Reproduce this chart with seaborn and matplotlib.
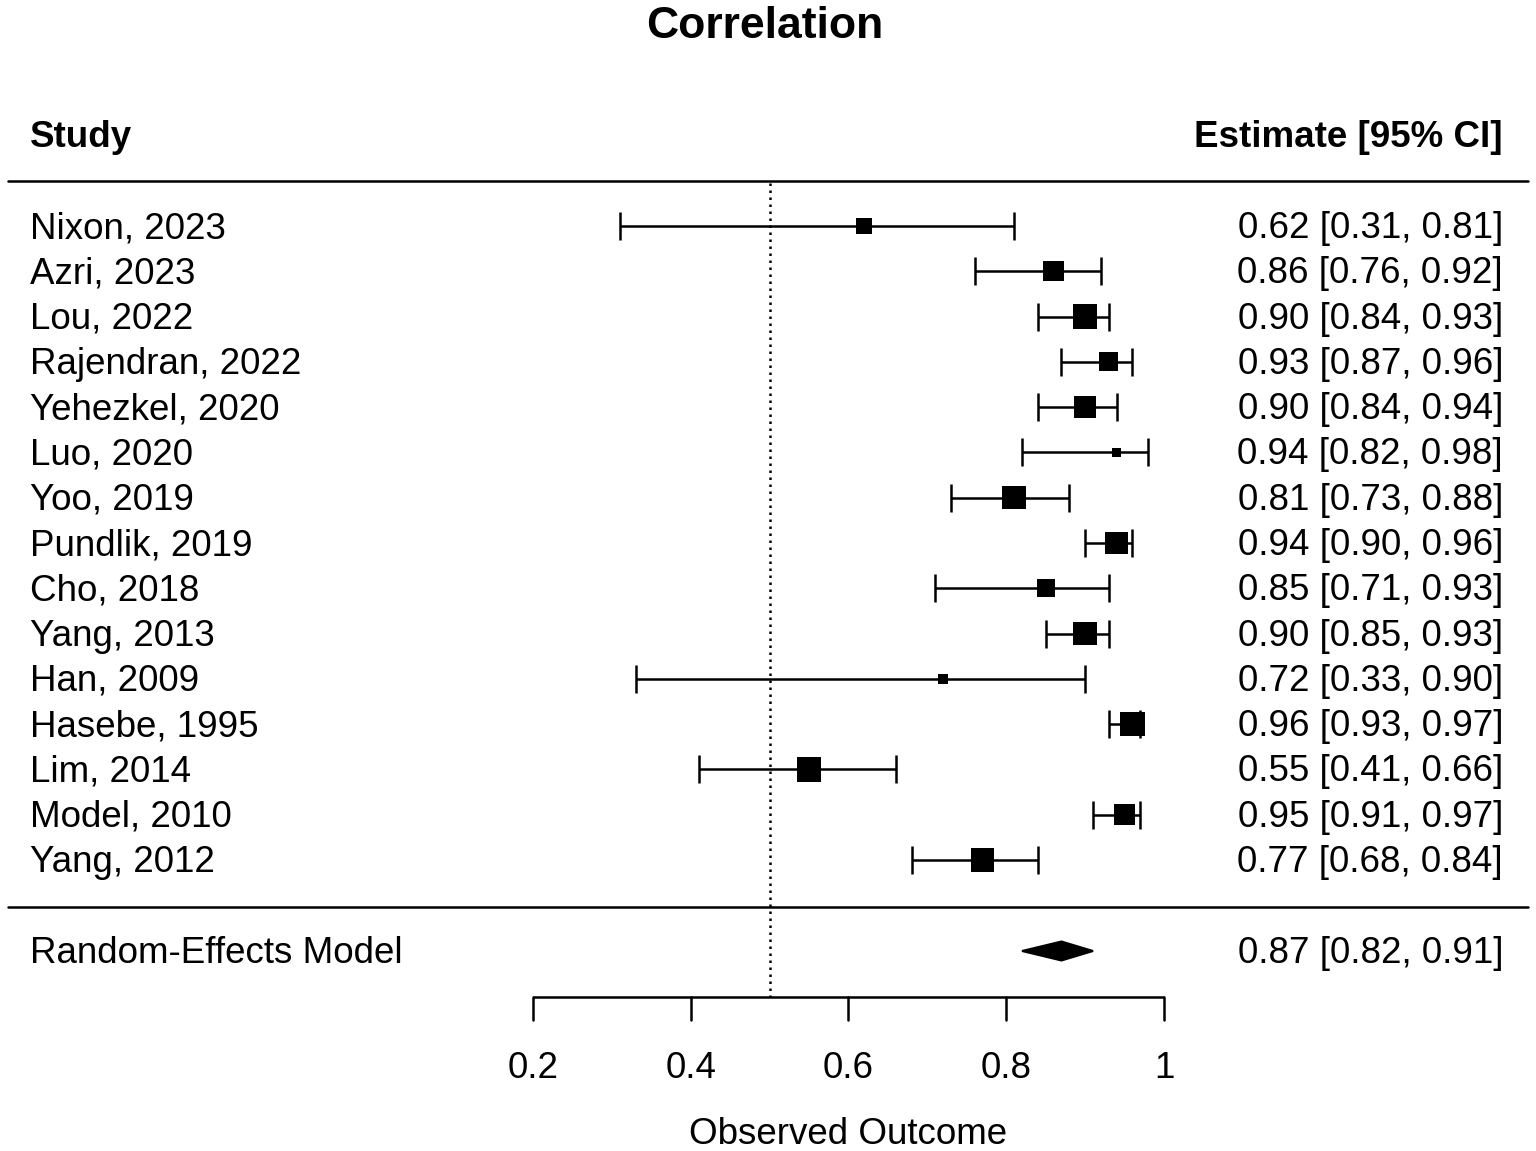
import numpy as np
import pandas as pd
import matplotlib
matplotlib.use("Agg")
import matplotlib.pyplot as plt
import seaborn as sns

# ---------------- data ----------------
studies = ["Nixon, 2023", "Azri, 2023", "Lou, 2022", "Rajendran, 2022", "Yehezkel, 2020",
           "Luo, 2020", "Yoo, 2019", "Pundlik, 2019", "Cho, 2018", "Yang, 2013",
           "Han, 2009", "Hasebe, 1995", "Lim, 2014", "Model, 2010", "Yang, 2012"]
estimate = [0.62, 0.86, 0.90, 0.93, 0.90, 0.94, 0.81, 0.94, 0.85, 0.90, 0.72, 0.96, 0.55, 0.95, 0.77]
ci_lower = [0.31, 0.76, 0.84, 0.87, 0.84, 0.82, 0.73, 0.90, 0.71, 0.85, 0.33, 0.93, 0.41, 0.91, 0.68]
ci_upper = [0.81, 0.92, 0.93, 0.96, 0.94, 0.98, 0.88, 0.96, 0.93, 0.93, 0.90, 0.97, 0.66, 0.97, 0.84]
weights = [4.0, 6.4, 9.3, 5.7, 7.8, 1.1, 8.5, 7.8, 5.1, 8.5, 1.4, 9.3, 9.3, 7.1, 8.5]  # % weight
re_label = "Random-Effects Model"
re_est, re_lo, re_hi = 0.87, 0.82, 0.91
ref_value = 0.5
x_ticks = [0.2, 0.4, 0.6, 0.8, 1.0]
x_tick_labels = ["0.2", "0.4", "0.6", "0.8", "1"]

# ---------------- style ----------------
sns.set_theme(style="white")
plt.rcParams['font.family'] = ['Liberation Sans', 'DejaVu Sans']
plt.rcParams['text.color'] = 'black'

W, H = 1536, 1151
fig = plt.figure(figsize=(W / 100, H / 100), dpi=100)
ax = fig.add_axes([0, 0, 1, 1])
ax.axis("off")

# x scale: value 0.2 at 533 px, 1.0 at 1164 px
ppu = (1164 - 533) / 0.8
xmin = 0.2 - 533 / ppu
xmax = xmin + W / ppu
ax.set_xlim(xmin, xmax)
ax.set_ylim(H, 0)  # y in pixel rows

def px2x(p):
    return xmin + p / ppu

FS = 26.5
LW = 1.8
TY = 2.5  # text vertical offset
row0, drow = 226, (860 - 226) / 14
rows = [row0 + i * drow for i in range(len(studies))]
re_row = 951

df = pd.DataFrame({"study": studies, "est": estimate, "lo": ci_lower, "hi": ci_upper,
                   "w": weights, "row": rows})

# reference line
ax.plot([ref_value, ref_value], [183, 997], color="black", lw=1.8,
        linestyle=(0, (1, 1.8)), zorder=1)

# horizontal rules
ax.plot([px2x(8), px2x(1528)], [181, 181], color="black", lw=LW)
ax.plot([px2x(8), px2x(1528)], [907, 907], color="black", lw=LW)

# CIs
ax.errorbar(df["est"], df["row"],
            xerr=[df["est"] - df["lo"], df["hi"] - df["est"]],
            fmt="none", ecolor="black", elinewidth=LW, capsize=10, capthick=LW, zorder=2)

# squares: side (px) proportional to sqrt(weight)
side_px = np.sqrt(df["w"] * 56.65) * 1.07
sizes = (side_px * 0.72) ** 2
sns.scatterplot(data=df, x="est", y="row", marker="s", color="black", s=sizes,
                linewidth=0, ax=ax, zorder=3, legend=False)

# summary diamond
hh = 9.5
ax.fill([re_lo, re_est, re_hi, re_est], [re_row, re_row - hh, re_row, re_row + hh],
        facecolor="black", edgecolor="black", lw=1.5, zorder=3)

# text columns
for r, s, e, lo, hi in zip(rows, studies, estimate, ci_lower, ci_upper):
    ax.text(px2x(30), r + TY, s, ha="left", va="center", fontsize=FS)
    ax.text(px2x(1503), r + TY, f"{e:.2f} [{lo:.2f}, {hi:.2f}]", ha="right", va="center",
            fontsize=FS)
ax.text(px2x(30), re_row + TY, re_label, ha="left", va="center", fontsize=FS)
ax.text(px2x(1503), re_row + TY, f"{re_est:.2f} [{re_lo:.2f}, {re_hi:.2f}]",
        ha="right", va="center", fontsize=FS)

ax.text(px2x(30), 135 + TY, "Study", ha="left", va="center", fontsize=FS, fontweight="bold")
ax.text(px2x(1503), 135 + TY, "Estimate [95% CI]", ha="right", va="center", fontsize=FS,
        fontweight="bold")

# bottom axis
ax.plot([x_ticks[0], x_ticks[-1]], [997, 997], color="black", lw=LW, solid_capstyle="butt")
for t, lab in zip(x_ticks, x_tick_labels):
    ax.plot([t, t], [997, 1020], color="black", lw=LW)
    ax.text(t, 1066 + TY, lab, ha="center", va="center", fontsize=FS)
ax.text((x_ticks[0] + x_ticks[-1]) / 2, 1132 + TY, "Observed Outcome", ha="center",
        va="center", fontsize=FS)

fig.text(765 / W, 1 - (24 + TY) / H, "Correlation", ha="center", va="center", fontsize=32,
         fontweight="bold")

fig.savefig("out.png", dpi=100, facecolor="white")
